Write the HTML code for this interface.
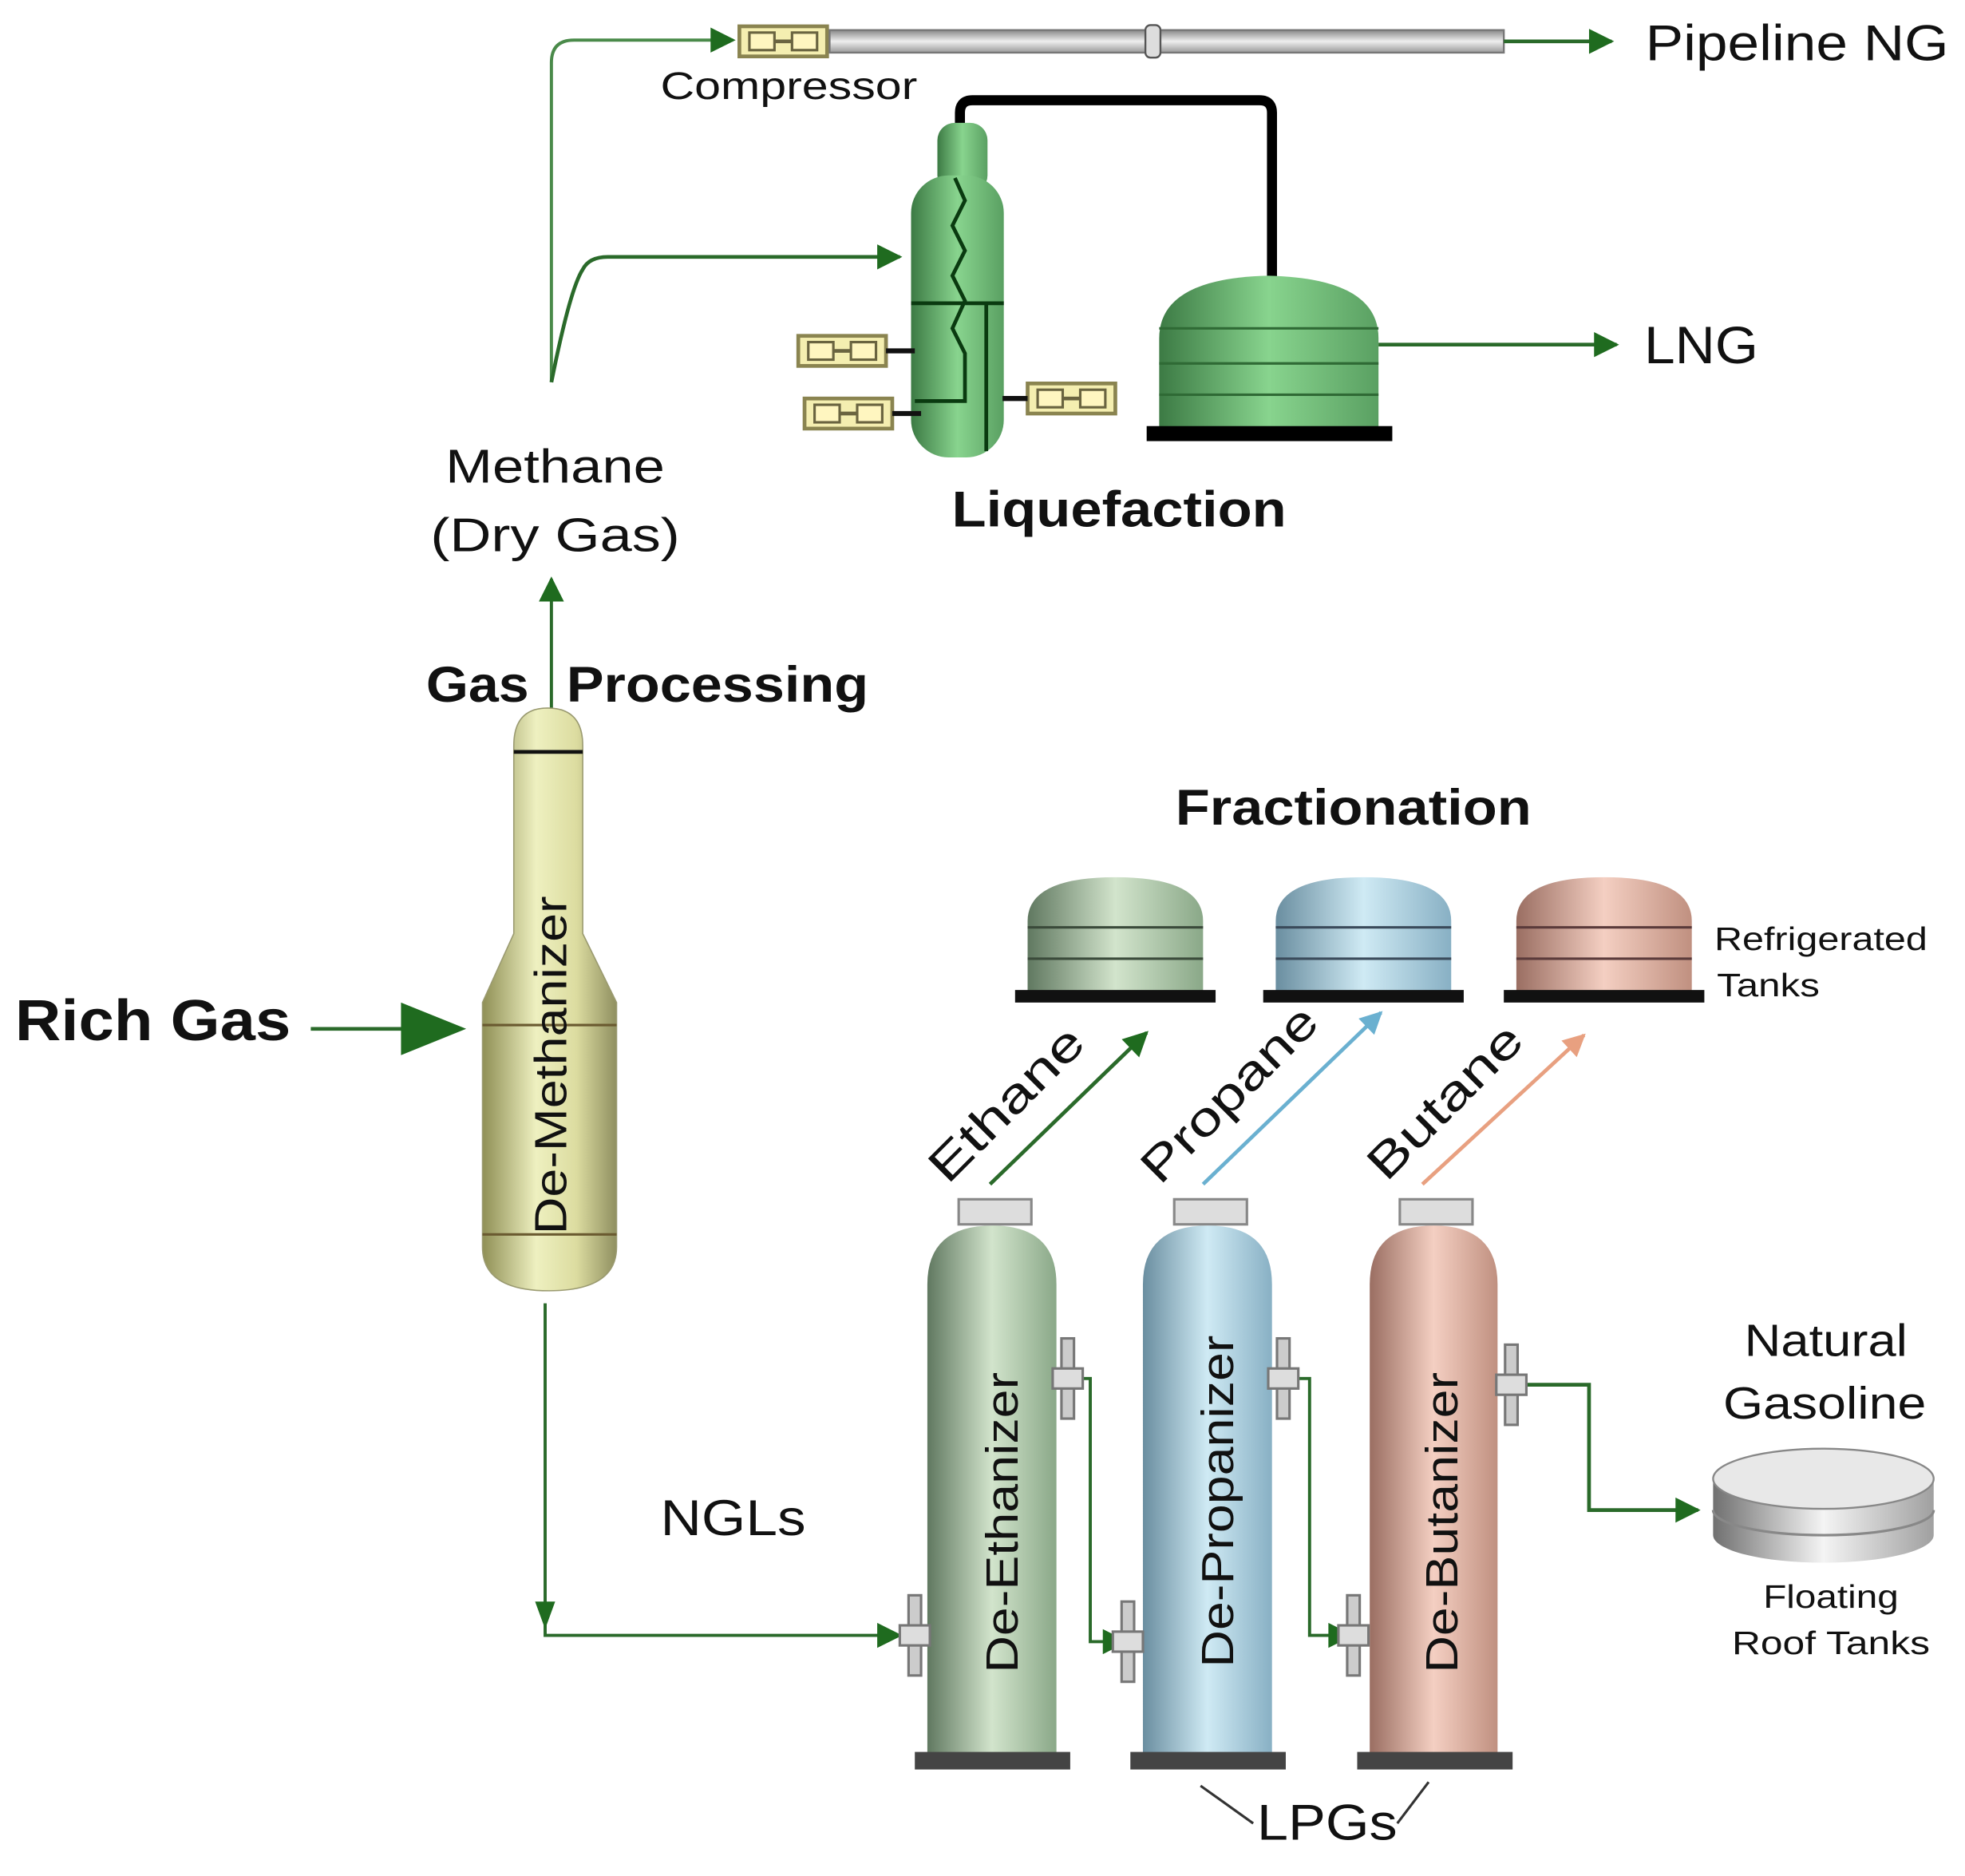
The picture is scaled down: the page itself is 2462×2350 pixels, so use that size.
<!DOCTYPE html>
<html><head><meta charset="utf-8"><style>
html,body{margin:0;padding:0;background:#fff;}
svg{display:block;}
text{font-family:"Liberation Sans",Arial,sans-serif;fill:#111;}
</style></head><body>
<svg width="2462" height="2350" viewBox="0 0 1568 1497" preserveAspectRatio="none" xmlns="http://www.w3.org/2000/svg">
<defs>
<marker id="ag" viewBox="0 0 10 10" refX="9" refY="5" markerWidth="24" markerHeight="20" orient="auto" markerUnits="userSpaceOnUse"><path d="M0,0L10,5L0,10z" fill="#1f6b1f"/></marker>
<marker id="ab" viewBox="0 0 10 10" refX="9" refY="5" markerWidth="22" markerHeight="18" orient="auto" markerUnits="userSpaceOnUse"><path d="M0,0L10,5L0,10z" fill="#6ab0d0"/></marker>
<marker id="ao" viewBox="0 0 10 10" refX="9" refY="5" markerWidth="22" markerHeight="18" orient="auto" markerUnits="userSpaceOnUse"><path d="M0,0L10,5L0,10z" fill="#e8a080"/></marker>
<linearGradient id="gy" x1="0" x2="1"><stop offset="0" stop-color="#8f8f55"/><stop offset=".4" stop-color="#eef0c0"/><stop offset=".7" stop-color="#dcdca0"/><stop offset="1" stop-color="#8f8f60"/></linearGradient>
<linearGradient id="gg" x1="0" x2="1"><stop offset="0" stop-color="#3c7a44"/><stop offset=".5" stop-color="#88d48e"/><stop offset="1" stop-color="#5aa062"/></linearGradient>
<linearGradient id="ge" x1="0" x2="1"><stop offset="0" stop-color="#607860"/><stop offset=".5" stop-color="#d2e4cc"/><stop offset="1" stop-color="#8aa888"/></linearGradient>
<linearGradient id="gb" x1="0" x2="1"><stop offset="0" stop-color="#6a8ea0"/><stop offset=".5" stop-color="#cfeaf4"/><stop offset="1" stop-color="#88b0c4"/></linearGradient>
<linearGradient id="gp" x1="0" x2="1"><stop offset="0" stop-color="#9a6e62"/><stop offset=".5" stop-color="#f4cfc2"/><stop offset="1" stop-color="#c09080"/></linearGradient>
<linearGradient id="gs" x1="0" x2="1"><stop offset="0" stop-color="#707070"/><stop offset=".5" stop-color="#f4f4f4"/><stop offset="1" stop-color="#a0a0a0"/></linearGradient>
<linearGradient id="pipe" x1="0" y1="0" x2="0" y2="1"><stop offset="0" stop-color="#888"/><stop offset=".5" stop-color="#eee"/><stop offset="1" stop-color="#999"/></linearGradient>
<g id="comp"><rect x="0" y="0" width="70" height="24" fill="#f4eeb0" stroke="#8a8450" stroke-width="3"/><rect x="8" y="5" width="20" height="14" fill="#fff6c0" stroke="#6a6440" stroke-width="2"/><rect x="42" y="5" width="20" height="14" fill="#fff6c0" stroke="#6a6440" stroke-width="2"/><line x1="28" y1="12" x2="42" y2="12" stroke="#6a6440" stroke-width="3"/></g>
<g id="valve"><rect x="-5" y="-32" width="10" height="64" fill="#ccc" stroke="#777" stroke-width="2"/><rect x="-12" y="-8" width="24" height="16" fill="#ddd" stroke="#777" stroke-width="2"/></g>
</defs>

<path d="M440,305 L440,50 Q440,32 458,32 L585,32" fill="none" stroke="#4a8a4a" stroke-width="2.5" marker-end="url(#ag)"/>
<use href="#comp" x="590" y="21"/>
<rect x="662" y="24" width="538" height="18" fill="url(#pipe)" stroke="#777" stroke-width="1.5"/>
<rect x="914" y="20" width="12" height="26" rx="4" fill="#ddd" stroke="#555" stroke-width="1.5"/>
<line x1="1200" y1="33" x2="1286" y2="33" stroke="#2a6a2a" stroke-width="3" marker-end="url(#ag)"/>
<text x="1313" y="48" font-size="40" textLength="242" lengthAdjust="spacingAndGlyphs">Pipeline NG</text>
<text x="527" y="79" font-size="31" textLength="205" lengthAdjust="spacingAndGlyphs">Compressor</text>

<path d="M440,305 Q455,230 465,215 Q470,205 485,205 L718,205" fill="none" stroke="#2a6a2a" stroke-width="3" marker-end="url(#ag)"/>

<path d="M766,112 L766,90 Q766,80 776,80 L1005,80 Q1015,80 1015,90 L1015,225" fill="none" stroke="#000" stroke-width="8"/>
<rect x="748" y="98" width="40" height="56" rx="14" fill="url(#gg)"/>
<rect x="727" y="140" width="74" height="225" rx="30" fill="url(#gg)"/>
<path d="M762,142 L770,160 L760,180 L770,200 L760,220 L770,240 L760,262 L770,282 L770,320 L730,320" fill="none" stroke="#0a3a10" stroke-width="3"/>
<line x1="727" y1="242" x2="801" y2="242" stroke="#0a3a10" stroke-width="3"/>
<line x1="787" y1="242" x2="787" y2="360" stroke="#0a3a10" stroke-width="3"/>
<use href="#comp" x="637" y="268"/>
<line x1="707" y1="280" x2="730" y2="280" stroke="#111" stroke-width="4"/>
<use href="#comp" x="642" y="318"/>
<line x1="712" y1="330" x2="735" y2="330" stroke="#111" stroke-width="4"/>
<use href="#comp" x="820" y="306"/>
<line x1="800" y1="318" x2="820" y2="318" stroke="#111" stroke-width="4"/>
<path d="M925,342 L925,270 Q925,222 1012,220 Q1100,222 1100,270 L1100,342 Z" fill="url(#gg)"/>
<line x1="925" y1="262" x2="1100" y2="262" stroke="#2f6a35" stroke-width="2"/>
<line x1="925" y1="290" x2="1100" y2="290" stroke="#2f6a35" stroke-width="2"/>
<line x1="925" y1="315" x2="1100" y2="315" stroke="#2f6a35" stroke-width="2"/>
<rect x="915" y="340" width="196" height="12" fill="#000"/>
<line x1="1100" y1="275" x2="1290" y2="275" stroke="#2a6a2a" stroke-width="3" marker-end="url(#ag)"/>
<text x="1312" y="290" font-size="42" textLength="91" lengthAdjust="spacingAndGlyphs">LNG</text>

<text x="443" y="385" font-size="38" text-anchor="middle" textLength="175" lengthAdjust="spacingAndGlyphs">Methane</text>
<text x="443" y="440" font-size="38" text-anchor="middle" textLength="199" lengthAdjust="spacingAndGlyphs">(Dry Gas)</text>
<text x="893" y="420" font-size="40" font-weight="bold" text-anchor="middle" textLength="267" lengthAdjust="spacingAndGlyphs">Liquefaction</text>

<line x1="440" y1="565" x2="440" y2="462" stroke="#2a6a2a" stroke-width="2.5" marker-end="url(#ag)"/>
<text x="340" y="560" font-size="40" font-weight="bold" textLength="82" lengthAdjust="spacingAndGlyphs">Gas</text>
<text x="452" y="560" font-size="40" font-weight="bold" textLength="241" lengthAdjust="spacingAndGlyphs">Processing</text>

<path d="M410,745 L410,595 Q410,565 437,565 Q465,565 465,595 L465,745 L492,800 L492,995 Q492,1030 438,1030 Q385,1030 385,995 L385,800 Z" fill="url(#gy)" stroke="#9a9a70" stroke-width="1"/>
<line x1="410" y1="600" x2="465" y2="600" stroke="#111" stroke-width="3"/>
<line x1="385" y1="818" x2="492" y2="818" stroke="#6a5a30" stroke-width="2"/>
<line x1="385" y1="985" x2="492" y2="985" stroke="#6a5a30" stroke-width="2"/>
<text transform="translate(452,850) rotate(-90)" font-size="36" text-anchor="middle" textLength="270" lengthAdjust="spacingAndGlyphs">De-Methanizer</text>

<text x="12" y="830" font-size="46" font-weight="bold" textLength="220" lengthAdjust="spacingAndGlyphs">Rich Gas</text>
<line x1="248" y1="821" x2="325" y2="821" stroke="#2a6a2a" stroke-width="3"/>
<path d="M320,800 L372,821 L320,842 Z" fill="#1f6b1f"/>

<path d="M435,1040 L435,1305 L718,1305" fill="none" stroke="#2a6a2a" stroke-width="2.5" marker-end="url(#ag)"/>
<path d="M427,1278 L435,1300 L443,1278 Z" fill="#1f6b1f"/>
<text x="527" y="1225" font-size="40" textLength="116" lengthAdjust="spacingAndGlyphs">NGLs</text>

<text x="1080" y="658" font-size="40" font-weight="bold" text-anchor="middle" textLength="284" lengthAdjust="spacingAndGlyphs">Fractionation</text>
<g>
<path d="M820,792 L820,735 Q820,700 890,700 Q960,700 960,735 L960,792 Z" fill="url(#ge)"/>
<line x1="820" y1="740" x2="960" y2="740" stroke="#3a4a3a" stroke-width="2"/><line x1="820" y1="765" x2="960" y2="765" stroke="#3a4a3a" stroke-width="2"/>
<rect x="810" y="790" width="160" height="10" fill="#111"/>
<path d="M1018,792 L1018,735 Q1018,700 1088,700 Q1158,700 1158,735 L1158,792 Z" fill="url(#gb)"/>
<line x1="1018" y1="740" x2="1158" y2="740" stroke="#3a4a5a" stroke-width="2"/><line x1="1018" y1="765" x2="1158" y2="765" stroke="#3a4a5a" stroke-width="2"/>
<rect x="1008" y="790" width="160" height="10" fill="#111"/>
<path d="M1210,792 L1210,735 Q1210,700 1280,700 Q1350,700 1350,735 L1350,792 Z" fill="url(#gp)"/>
<line x1="1210" y1="740" x2="1350" y2="740" stroke="#5a3a3a" stroke-width="2"/><line x1="1210" y1="765" x2="1350" y2="765" stroke="#5a3a3a" stroke-width="2"/>
<rect x="1200" y="790" width="160" height="10" fill="#111"/>
</g>
<text x="1368" y="758" font-size="26" textLength="170" lengthAdjust="spacingAndGlyphs">Refrigerated</text>
<text x="1370" y="795" font-size="26" textLength="82" lengthAdjust="spacingAndGlyphs">Tanks</text>

<line x1="790" y1="945" x2="915" y2="824" stroke="#2a6a2a" stroke-width="3" marker-end="url(#ag)"/>
<line x1="960" y1="945" x2="1102" y2="808" stroke="#6ab0d0" stroke-width="3" marker-end="url(#ab)"/>
<line x1="1135" y1="945" x2="1264" y2="826" stroke="#e8a080" stroke-width="3" marker-end="url(#ao)"/>
<text transform="translate(812,890) rotate(-45)" font-size="38" text-anchor="middle" textLength="158" lengthAdjust="spacingAndGlyphs">Ethane</text>
<text transform="translate(990,882) rotate(-45)" font-size="38" text-anchor="middle" textLength="182" lengthAdjust="spacingAndGlyphs">Propane</text>
<text transform="translate(1162,888) rotate(-45)" font-size="38" text-anchor="middle" textLength="158" lengthAdjust="spacingAndGlyphs">Butane</text>

<g>
<rect x="765" y="957" width="58" height="20" fill="#ddd" stroke="#888" stroke-width="2"/>
<path d="M740,1400 L740,1025 Q740,978 792,978 Q843,978 843,1025 L843,1400 Z" fill="url(#ge)"/>
<rect x="730" y="1398" width="124" height="14" fill="#444"/>
<text transform="translate(812,1215) rotate(-90)" font-size="36" text-anchor="middle" textLength="240" lengthAdjust="spacingAndGlyphs">De-Ethanizer</text>
<rect x="937" y="957" width="58" height="20" fill="#ddd" stroke="#888" stroke-width="2"/>
<path d="M912,1400 L912,1025 Q912,978 964,978 Q1015,978 1015,1025 L1015,1400 Z" fill="url(#gb)"/>
<rect x="902" y="1398" width="124" height="14" fill="#444"/>
<text transform="translate(984,1198) rotate(-90)" font-size="36" text-anchor="middle" textLength="265" lengthAdjust="spacingAndGlyphs">De-Propanizer</text>
<rect x="1117" y="957" width="58" height="20" fill="#ddd" stroke="#888" stroke-width="2"/>
<path d="M1093,1400 L1093,1025 Q1093,978 1144,978 Q1195,978 1195,1025 L1195,1400 Z" fill="url(#gp)"/>
<rect x="1083" y="1398" width="124" height="14" fill="#444"/>
<text transform="translate(1163,1215) rotate(-90)" font-size="36" text-anchor="middle" textLength="240" lengthAdjust="spacingAndGlyphs">De-Butanizer</text>
</g>
<path d="M855,1100 L870,1100 L870,1310 L898,1310" fill="none" stroke="#2a6a2a" stroke-width="2.5" marker-end="url(#ag)"/>
<path d="M1025,1100 L1045,1100 L1045,1305 L1078,1305" fill="none" stroke="#2a6a2a" stroke-width="2.5" marker-end="url(#ag)"/>
<path d="M1207,1105 L1268,1105 L1268,1205 L1355,1205" fill="none" stroke="#2a6a2a" stroke-width="3" marker-end="url(#ag)"/>
<use href="#valve" x="730" y="1305"/>
<use href="#valve" x="852" y="1100"/>
<use href="#valve" x="900" y="1310"/>
<use href="#valve" x="1024" y="1100"/>
<use href="#valve" x="1080" y="1305"/>
<use href="#valve" x="1206" y="1105"/>

<text x="1457" y="1082" font-size="36" text-anchor="middle" textLength="130" lengthAdjust="spacingAndGlyphs">Natural</text>
<text x="1456" y="1132" font-size="36" text-anchor="middle" textLength="162" lengthAdjust="spacingAndGlyphs">Gasoline</text>
<path d="M1367,1180 L1367,1225 A88,22 0 0 0 1543,1225 L1543,1180 Z" fill="url(#gs)"/>
<ellipse cx="1455" cy="1180" rx="88" ry="24" fill="#e8e8e8" stroke="#888" stroke-width="1.5"/>
<path d="M1367,1205 A88,20 0 0 0 1543,1205" fill="none" stroke="#888" stroke-width="2"/>
<text x="1461" y="1283" font-size="26" text-anchor="middle" textLength="108" lengthAdjust="spacingAndGlyphs">Floating</text>
<text x="1461" y="1320" font-size="26" text-anchor="middle" textLength="158" lengthAdjust="spacingAndGlyphs">Roof Tanks</text>

<text x="1059" y="1468" font-size="40" text-anchor="middle" textLength="112" lengthAdjust="spacingAndGlyphs">LPGs</text>
<line x1="958" y1="1425" x2="1000" y2="1455" stroke="#333" stroke-width="2"/>
<line x1="1140" y1="1422" x2="1115" y2="1455" stroke="#333" stroke-width="2"/>
</svg>
</body></html>
